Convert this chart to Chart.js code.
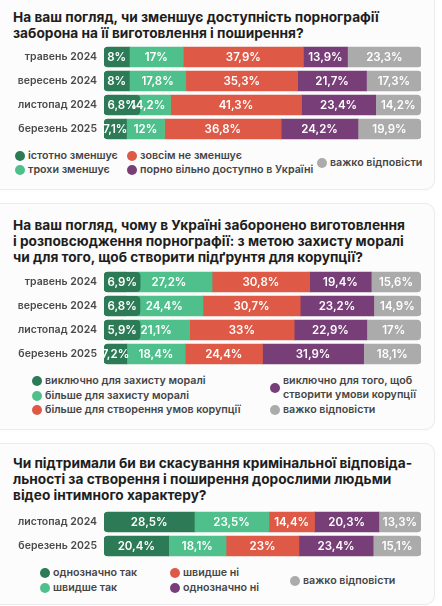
<!DOCTYPE html>
<html><head><meta charset="utf-8">
<script src="https://cdn.jsdelivr.net/npm/chart.js@4"></script>
<style>
html,body{margin:0;padding:0}
body{width:442px;height:606px;background:#fff;font-family:Inter,"Noto Sans",sans-serif;position:relative;overflow:hidden}
.card{position:absolute;left:-12px;width:445px;background:#fcfcfd;border:1px solid #ebebef;border-radius:10px;box-shadow:0 0 3px rgba(0,0,0,0.03)}
.title{position:absolute;left:13px;font-weight:700;font-size:13.7px;line-height:16px;color:#1e1e1e;white-space:nowrap}
.cv{position:absolute;left:0}
.lg{position:absolute;font-size:10.7px;font-weight:600;color:#454545;line-height:14.5px}
.lg i{position:absolute;width:10px;height:10px;border-radius:50%;left:-13px}
</style></head><body>
<div class="card" style="top:-12px;height:200px"></div>
<div class="card" style="top:203px;height:225px"></div>
<div class="card" style="top:443px;height:160px"></div>
<div class="title" style="top:9px">На ваш погляд, чи зменшує доступність порнографії<br>заборона на її виготовлення і поширення?</div>
<div class="title" style="top:217px">На ваш погляд, чому в Україні заборонено виготовлення<br>і розповсюдження порнографії: з метою захисту моралі<br>чи для того, щоб створити підґрунтя для корупції?</div>
<div class="title" style="top:455px">Чи підтримали би ви скасування кримінальної відповіда-<br>льності за створення і поширення дорослими людьми<br>відео інтимного характеру?</div>
<canvas id="c1" class="cv" width="430" height="96" style="top:45px"></canvas>
<canvas id="c2" class="cv" width="430" height="96" style="top:270px"></canvas>
<canvas id="c3" class="cv" width="430" height="48" style="top:510px"></canvas>
<div id="legends"></div>
<script>
// ---- data ----
const colors = ['#2d7b56', '#4fc08c', '#de5a47', '#773e78', '#ababab'];

const months1 = ['травень 2024', 'вересень 2024', 'листопад 2024', 'березень 2025'];
const names1 = ['істотно зменшує', 'трохи зменшує', 'зовсім не зменшує', 'порно вільно доступно в Україні', 'важко відповісти'];
const q1Significant = [8, 8, 6.8, 7.1];
const q1Slightly = [17, 17.8, 14.2, 12];
const q1NotAtAll = [37.9, 35.3, 41.3, 36.8];
const q1FreelyAvailable = [13.9, 21.7, 23.4, 24.2];
const q1HardToSay = [23.3, 17.3, 14.2, 19.9];

const months2 = ['травень 2024', 'вересень 2024', 'листопад 2024', 'березень 2025'];
const names2 = ['виключно для захисту моралі', 'більше для захисту моралі', 'більше для створення умов корупції', 'виключно для того, щоб створити умови корупції', 'важко відповісти'];
const q2OnlyMorals = [6.9, 6.8, 5.9, 7.2];
const q2MoreMorals = [27.2, 24.4, 21.1, 18.4];
const q2MoreCorruption = [30.8, 30.7, 33, 24.4];
const q2OnlyCorruption = [19.4, 23.2, 22.9, 31.9];
const q2HardToSay = [15.6, 14.9, 17, 18.1];

const months3 = ['листопад 2024', 'березень 2025'];
const names3 = ['однозначно так', 'швидше так', 'швидше ні', 'однозначно ні', 'важко відповісти'];
const q3DefinitelyYes = [28.5, 20.4];
const q3RatherYes = [23.5, 18.1];
const q3RatherNo = [14.4, 23];
const q3DefinitelyNo = [20.3, 23.4];
const q3HardToSay = [13.3, 15.1];

// ---- layout (legend text left x, centre y) ----
const legendPos1 = [[28,156],[28,170],[140,156],[140,170],[330,163]];
const legendPos2 = [[45,381],[45,396],[45,410],[283,388],[283,410]];
const legendPos3 = [[53,573],[53,588],[183,573],[183,588],[303,581]];

const fmt = v => String(v).replace('.', ',') + '%';

function rr(ctx, x, y, w, h, r) {
  ctx.beginPath();
  ctx.moveTo(x + r, y); ctx.lineTo(x + w - r, y); ctx.quadraticCurveTo(x + w, y, x + w, y + r);
  ctx.lineTo(x + w, y + h - r); ctx.quadraticCurveTo(x + w, y + h, x + w - r, y + h);
  ctx.lineTo(x + r, y + h); ctx.quadraticCurveTo(x, y + h, x, y + h - r);
  ctx.lineTo(x, y + r); ctx.quadraticCurveTo(x, y, x + r, y); ctx.closePath();
}

const labelPlugin = {
  id: 'segLabels',
  afterDatasetsDraw(chart) {
    const ctx = chart.ctx;
    ctx.save();
    ctx.font = '600 11.5px Inter';
    ctx.textBaseline = 'middle';
    ctx.textAlign = 'center';
    chart.data.datasets.forEach((ds, di) => {
      chart.getDatasetMeta(di).data.forEach((bar, i) => {
        const v = ds.data[i];
        const txt = fmt(v);
        const p = bar.getProps(['x', 'y', 'base', 'height'], true);
        const w = ctx.measureText(txt).width;
        let cx = (p.x + p.base) / 2;
        if (di === 0 && v < 7) {
          const bw = w + 7;
          ctx.fillStyle = ds.backgroundColor;
          rr(ctx, p.base, p.y - p.height / 2, bw, p.height, 4);
          ctx.fill();
          cx = p.base + bw / 2;
        }
        ctx.fillStyle = '#ffffff';
        ctx.fillText(txt, cx, p.y + 0.5);
      });
    });
    ctx.restore();
  }
};

function makeChart(id, cats, series, names) {
  const n = series.length;
  new Chart(document.getElementById(id), {
    type: 'bar',
    data: {
      labels: cats,
      datasets: series.map((d, i) => ({
        label: names[i], data: d, backgroundColor: colors[i],
        borderSkipped: false, barThickness: 20,
        borderRadius: i === 0 ? {topLeft: 4, bottomLeft: 4, topRight: 0, bottomRight: 0}
                   : i === n - 1 ? {topLeft: 0, bottomLeft: 0, topRight: 4, bottomRight: 4} : 0
      }))
    },
    options: {
      indexAxis: 'y', responsive: false, animation: false,
      layout: {padding: {left: 0, right: 9, top: 0, bottom: 0}},
      plugins: {legend: {display: false}, tooltip: {enabled: false}},
      scales: {
        x: {stacked: true, display: false, min: 0, max: 100},
        y: {stacked: true, grid: {display: false, drawTicks: false}, border: {display: false},
            ticks: {padding: 7, color: '#4a4a4a', font: {family: 'Inter', size: 10.5, weight: '600'}},
            afterFit(s) { s.width = 104; s.paddingTop = 0; s.paddingBottom = 0; }}
      }
    },
    plugins: [labelPlugin]
  });
}

makeChart('c1', months1, [q1Significant, q1Slightly, q1NotAtAll, q1FreelyAvailable, q1HardToSay], names1);
makeChart('c2', months2, [q2OnlyMorals, q2MoreMorals, q2MoreCorruption, q2OnlyCorruption, q2HardToSay], names2);
makeChart('c3', months3, [q3DefinitelyYes, q3RatherYes, q3RatherNo, q3DefinitelyNo, q3HardToSay], names3);

function legend(names, pos, wrapW) {
  const root = document.getElementById('legends');
  names.forEach((nm, i) => {
    const d = document.createElement('div');
    d.className = 'lg';
    d.style.left = pos[i][0] + 'px';
    const lines = (wrapW && wrapW[i]) ? 2 : 1;
    d.style.top = (pos[i][1] - lines * 7.25) + 'px';
    if (wrapW && wrapW[i]) { d.style.width = wrapW[i] + 'px'; } else { d.style.whiteSpace = 'nowrap'; }
    const dot = document.createElement('i');
    dot.style.background = colors[i];
    dot.style.top = (lines * 7.25 - 5) + 'px';
    d.appendChild(dot);
    d.appendChild(document.createTextNode(nm));
    root.appendChild(d);
  });
}
legend(names1, legendPos1);
legend(names2, legendPos2, [0, 0, 0, 140, 0]);
legend(names3, legendPos3);
</script>
</body></html>
